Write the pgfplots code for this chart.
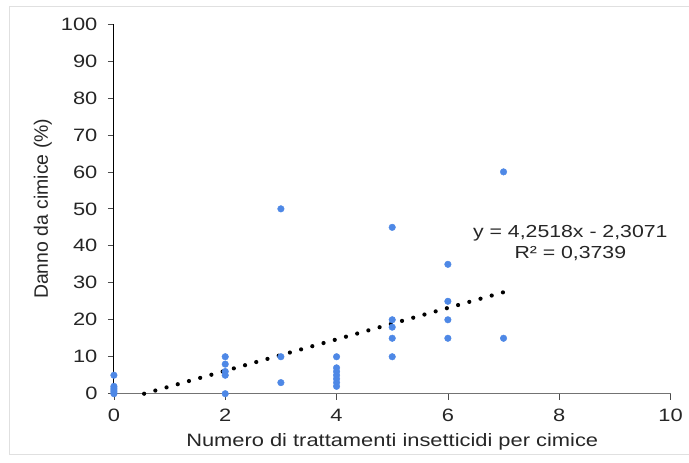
\documentclass[border=0pt]{standalone}
\usepackage{pgfplots}
\pgfplotsset{compat=1.18}
\usepackage{fontspec}
\setmainfont{Liberation Sans}
\newfontfamily\widesans{Liberation Sans}[FakeStretch=1.22]

\definecolor{pointblue}{RGB}{78,136,230}

\begin{document}
\begin{tikzpicture}
  % page area and the faint chart-area frame
  \fill[white] (0bp,0bp) rectangle (689bp,463bp);
  \draw[black!12, line width=1bp] (689bp,456bp) -- (10bp,456bp) -- (10bp,8bp) -- (689bp,8bp);
  \begin{axis}[
    at={(114bp,69bp)}, anchor=south west,
    scale only axis, width=557bp, height=370bp,
    xmin=0, xmax=10, ymin=0, ymax=100,
    axis lines=left,
    axis line style={-, black, line width=0.9bp},
    x axis line style={black!55},
    xtick={0,2,...,10}, ytick={0,10,...,100},
    tick align=outside,
    major tick length=6bp,
    tick style={black!70, line width=0.7bp},
    every tick label/.append style={font=\widesans\fontsize{18}{20}\selectfont, text=black!85},
    xticklabel style={yshift=-6bp},
    yticklabel style={xshift=-7bp},
    /pgf/number format/assume math mode=true,
    xlabel={Numero di trattamenti insetticidi per cimice},
    ylabel={Danno da cimice (\%)},
    xlabel style={font=\widesans\fontsize{18}{20}\selectfont, text=black!85,
      at={(axis description cs:0.5,0)}, anchor=base, yshift=-53bp},
    ylabel style={font=\fontsize{19.5}{21}\selectfont, text=black!85,
      at={(axis description cs:-0.1275,0.5)}, anchor=center, rotate=0},
    clip=false,
  ]
    % observed damage per number of treatments
    \addplot[only marks, mark=*, mark size=3.3bp, color=pointblue, mark options={draw=none, fill=pointblue}]
      coordinates {
        (0,0) (0,0.5) (0,1) (0,1.5) (0,2) (0,5)
        (2,0) (2,5) (2,6) (2,8) (2,10)
        (3,3) (3,10) (3,50)
        (4,2) (4,3) (4,4) (4,5) (4,6) (4,7) (4,10)
        (5,10) (5,15) (5,18) (5,20) (5,45)
        (6,15) (6,20) (6,25) (6,35)
        (7,15) (7,60)
      };
    % linear trend y = 4.2518x - 2.3071 (dot spacing divides the segment evenly)
    \addplot[black, line width=4.2bp, line cap=round, dash pattern=on 0pt off 11.66bp]
      coordinates {(0.5426,0) (7,27.455)};
    \node[font=\widesans\fontsize{17.5}{21.5}\selectfont, text=black!85, align=center]
      at (axis cs:8.2,40.8) {y = 4,2518x - 2,3071\\R² = 0,3739};
  \end{axis}
\end{tikzpicture}
\end{document}
